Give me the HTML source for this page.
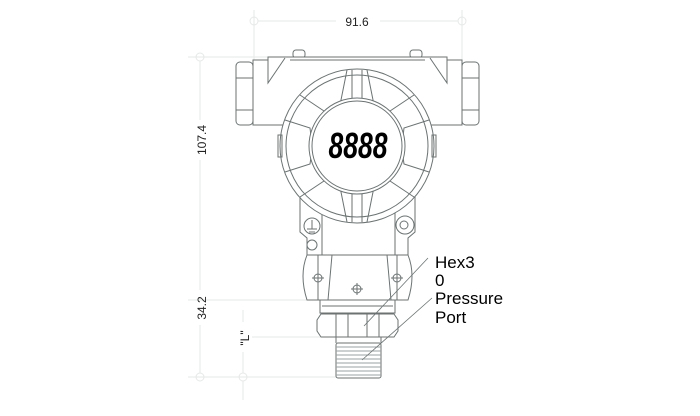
<!DOCTYPE html>
<html><head><meta charset="utf-8"><style>
html,body{margin:0;padding:0;background:#fff;width:700px;height:416px;overflow:hidden}
svg{display:block}
</style></head><body>
<svg width="700" height="416" viewBox="0 0 700 416" xmlns="http://www.w3.org/2000/svg" font-family="Liberation Sans, sans-serif">
<g stroke="#e6e8e8" stroke-width="1" fill="none">
<line x1="254" y1="10" x2="254" y2="60"/><line x1="462" y1="10" x2="462" y2="60"/>
<line x1="258" y1="21" x2="336" y2="21"/><line x1="380" y1="21" x2="458" y2="21"/>
<circle cx="254" cy="21" r="4"/><circle cx="462" cy="21" r="4"/>
<line x1="188" y1="57" x2="268" y2="57"/><circle cx="200" cy="57" r="4"/>
<line x1="200" y1="61" x2="200" y2="120"/><line x1="200" y1="160" x2="200" y2="290"/>
<line x1="188" y1="300" x2="320" y2="300"/>
<line x1="200" y1="325" x2="200" y2="373"/>
<line x1="243" y1="310" x2="243" y2="322"/><line x1="243" y1="352" x2="243" y2="373"/>
<line x1="252" y1="337" x2="320" y2="337"/>
<line x1="188" y1="377" x2="336" y2="377"/>
<circle cx="200" cy="377" r="4"/><circle cx="243" cy="377" r="4"/>
<line x1="243" y1="381" x2="243" y2="400"/>
</g>
<g fill="#222" font-size="12">
<text x="357" y="26" text-anchor="middle">91.6</text>
<text transform="translate(206,140) rotate(-90)" text-anchor="middle">107.4</text>
<text transform="translate(206,308) rotate(-90)" text-anchor="middle">34.2</text>
<text transform="translate(249,338) rotate(-90)" text-anchor="middle">"L"</text>
</g>
<g stroke="#6c7272" stroke-width="1" fill="#fff">
<rect x="293" y="50" width="12" height="8" rx="3"/><rect x="410" y="50" width="12" height="8" rx="3"/>
<rect x="236" y="62" width="17" height="63" rx="4"/>
<line x1="236" y1="78" x2="253" y2="78"/><line x1="236" y1="110" x2="253" y2="110"/>
<rect x="462" y="62" width="17" height="63" rx="4"/>
<line x1="462" y1="78" x2="479" y2="78"/><line x1="462" y1="110" x2="479" y2="110"/>
<path d="M253 60 H268 V57 H447 V60 H462 V125 H253 Z"/>
<path d="M268 58 L268 83 L285 58" fill="none"/>
<path d="M447 58 L447 83 L430 58" fill="none"/>
<line x1="290" y1="60" x2="425" y2="60"/>
<path d="M300 190 H415 V232 L408 238 V255 H307 V238 L300 232 Z"/>
<line x1="322" y1="205" x2="322" y2="255"/><line x1="395" y1="205" x2="395" y2="255"/>
<circle cx="312" cy="245" r="5"/>
<circle cx="405" cy="225" r="9"/><circle cx="404" cy="225" r="4"/>
<path d="M307 255 H408 Q416 275 408 300 H307 Q299 275 307 255 Z"/>
<path d="M332 255 L328 300 M387 255 L391 300 M318 255 V300 M397 255 V300" fill="none"/>
<g fill="none"><circle cx="318" cy="278" r="4"/><path d="M312 278H324M318 272V284"/>
<circle cx="397" cy="278" r="4"/><path d="M391 278H403M397 272V284"/>
<circle cx="357" cy="289" r="4"/><path d="M351 289H363M357 283V295"/></g>
<rect x="320" y="300" width="75" height="13"/>
<line x1="322" y1="306" x2="393" y2="306"/>
<path d="M321 314 H394 L398 320 V331 L394 337 H321 L317 331 V320 Z"/>
<line x1="336" y1="314" x2="336" y2="337"/><line x1="379" y1="314" x2="379" y2="337"/>
<line x1="348" y1="314" x2="348" y2="337"/><line x1="367" y1="314" x2="367" y2="337"/>
<rect x="336" y="343" width="45" height="35" rx="2"/>
<g stroke="#9aa0a0"><line x1="336" y1="347" x2="381" y2="347"/><line x1="336" y1="351" x2="381" y2="351"/><line x1="336" y1="355" x2="381" y2="355"/><line x1="336" y1="359" x2="381" y2="359"/><line x1="336" y1="363" x2="381" y2="363"/><line x1="336" y1="367" x2="381" y2="367"/><line x1="336" y1="371" x2="381" y2="371"/><line x1="336" y1="375" x2="381" y2="375"/></g>
<line x1="336" y1="337" x2="336" y2="343"/><line x1="381" y1="337" x2="381" y2="343"/>
<circle cx="357" cy="146" r="77"/>
<circle cx="357" cy="146" r="71" fill="none"/>
<g fill="none">
<path d="M347 70 L340 105 L330 115 L300 95 M367 70 L374 105 L384 115 L414 95"/>
<path d="M285 120 L310 128 L312 145 M429 120 L404 128 L402 145"/>
<path d="M285 172 L310 164 L312 150 M429 172 L404 164 L402 150"/>
<path d="M347 222 L340 187 L330 177 L300 197 M367 222 L374 187 L384 177 L414 197"/>
<path d="M352 70 L352 100 M362 70 L362 100 M352 192 V222 M362 192 V222"/>
<rect x="278" y="135" width="4" height="22"/><rect x="432" y="135" width="4" height="22"/>
</g>
<circle cx="357" cy="146" r="48"/>
<circle cx="357" cy="146" r="45"/>
<circle cx="312" cy="226" r="8"/>
<path d="M312 220V229M307 229H317M309 232H315" fill="none"/>
</g>
<text x="358" y="158" text-anchor="middle" font-size="36" font-style="italic" font-weight="bold" fill="#000" textLength="59" lengthAdjust="spacingAndGlyphs">8888</text>
<g stroke="#6c7272" stroke-width="0.8" fill="none">
<line x1="428" y1="258" x2="364" y2="326"/>
<line x1="432" y1="298" x2="362" y2="360"/>
</g>
<g fill="#000" font-size="17">
<text x="435" y="268">Hex3</text>
<text x="435" y="286">0</text>
<text x="435" y="304">Pressure</text>
<text x="435" y="323">Port</text>
</g>
</svg>
</body></html>
